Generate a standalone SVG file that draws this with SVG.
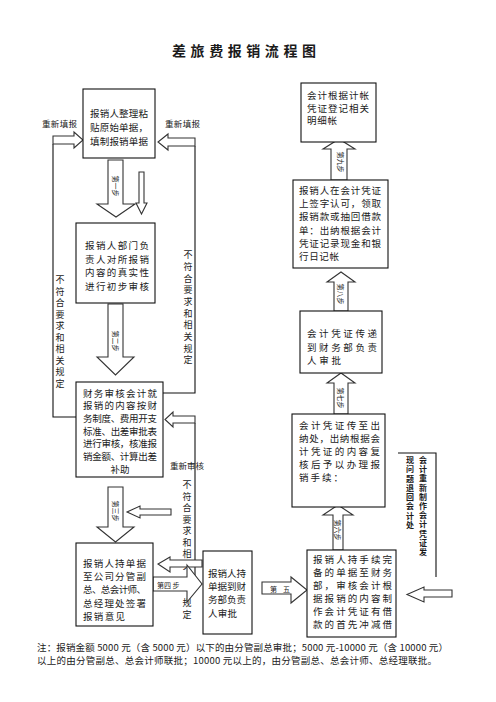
<svg xmlns="http://www.w3.org/2000/svg" width="496" height="702" viewBox="0 0 496 702">
<style>
text{font-family:"Noto Sans CJK SC","Liberation Sans",sans-serif;fill:#1a1a1a;dominant-baseline:central}
.bx{fill:#fff;stroke:#111;stroke-width:1.1}
.t{font-size:9.5px}
.v{font-size:9px;writing-mode:vertical-rl}
.vr{font-size:8px;writing-mode:vertical-rl;font-weight:bold}
.s{font-size:8.5px}
.st{font-size:7px}
.ar{fill:#fff;stroke:#333;stroke-width:1.1;stroke-linejoin:miter}
.ln{fill:none;stroke:#111;stroke-width:1.1}
</style>
<rect width="496" height="702" fill="#fff"/>
<text x="172" y="50" font-size="14" font-weight="bold" textLength="144" lengthAdjust="spacing">差旅费报销流程图</text>

<g id="connectors">
<path class="ln" d="M53 144 L53 417 L76 417"/>
<path class="ln" d="M195 146 L195 393 L163 393"/>
<path class="ln" d="M195 423 L195 577"/>
<path class="ln" d="M398 453 L436 453 L436 577"/>
<text class="v" x="60" y="275.5" textLength="112.5" lengthAdjust="spacing">不符合要求和相关规定</text>
<text class="v" x="188" y="250.5" textLength="114" lengthAdjust="spacing">不符合要求和相关规定</text>
<text class="v" x="187" y="480.5" textLength="89.5" lengthAdjust="spacing">不符合要求和相关</text>
<text class="v" x="187" y="598.5" textLength="20.5" lengthAdjust="spacing">规定</text>
<text class="vr" x="423" y="456" textLength="100" lengthAdjust="spacing">会计重新制作会计凭证发</text>
<text class="vr" x="410" y="456" textLength="73" lengthAdjust="spacing">现问题退回会计处</text>
<path class="ar" d="M53 136 L74 136 L74 132 L83 140 L74 148 L74 144 L53 144 Z"/>
<path class="ar" d="M195 138 L168 138 L168 134 L158 142 L168 150 L168 146 L195 146 Z"/>
<path class="ar" d="M195 416 L173 416 L173 412 L165 419.5 L173 427 L173 423 L195 423 Z"/>
<path class="ar" d="M108 160 L123 160 L123 204 L135 204 L116 217 L97 204 L108 204 Z"/>
<path class="ar" d="M139 172 L144 172 L144 203 L147 203 L141.5 214 L136 203 L139 203 Z"/>
<path class="ar" d="M108 304 L123 304 L123 357 L134 357 L115.5 375 L97 357 L108 357 Z"/>
<path class="ar" d="M108 487 L123 487 L123 527 L134 527 L115.5 542 L97 527 L108 527 Z"/>
<path class="ar" d="M171 509 L140 509 L140 506 L127 512 L140 518 L140 515 L171 515 Z"/>
<path class="ar" d="M202 560 L170 560 L170 557 L158 564 L170 572 L170 567 L202 567 Z"/>
<path class="ar" d="M153 577 L187 577 L187 565 L202 584 L187 602 L187 591 L153 591 Z"/>
<path class="ar" d="M262 582 L291 582 L291 577 L307 590 L291 603 L291 594 L262 594 Z"/>
<path class="ar" d="M452 590 L424 590 L424 587 L407 594.5 L424 602 L424 597 L452 597 Z"/>
<path class="ar" d="M333 550 L343 550 L343 515 L353 515 L338 505 L323 515 L333 515 Z"/>
<path class="ar" d="M334 414 L348 414 L348 383 L355 383 L341 373 L327 383 L334 383 Z"/>
<path class="ar" d="M334 311 L348 311 L348 282 L355 282 L341 272 L327 282 L334 282 Z"/>
<path class="ar" d="M331 180 L347 180 L347 149 L355 149 L339 139 L323 149 L331 149 Z"/>
<text class="st" transform="translate(115.5,186) rotate(90)" text-anchor="middle">第一步</text>
<text class="st" transform="translate(115.5,341) rotate(90)" text-anchor="middle">第二步</text>
<text class="st" transform="translate(115.5,511) rotate(90)" text-anchor="middle">第三步</text>
<text class="st" transform="translate(341,162) rotate(90)" text-anchor="middle">第九步</text>
<text class="st" transform="translate(341,294) rotate(90)" text-anchor="middle">第八步</text>
<text class="st" transform="translate(341,398) rotate(90)" text-anchor="middle">第七步</text>
<text class="st" transform="translate(338,530) rotate(90)" text-anchor="middle">第六步</text>
<text class="st" x="157" y="585">第四 步</text>
<text class="st" x="270" y="589" textLength="20" lengthAdjust="spacing">第 五</text>
<text class="s" x="42" y="123" textLength="35" lengthAdjust="spacing">重新填报</text>
<text class="s" x="165" y="123" textLength="35" lengthAdjust="spacing">重新填报</text>
<text class="s" x="170" y="465" textLength="34" lengthAdjust="spacing">重新审核</text>
</g>

<g id="n1">
<rect class="bx" x="83" y="89" width="72" height="69"/>
<text class="t" x="90" y="113" textLength="58" lengthAdjust="spacing">报销人整理粘</text>
<text class="t" x="90" y="127" textLength="58" lengthAdjust="spacing">贴原始单据，</text>
<text class="t" x="90" y="141" textLength="58" lengthAdjust="spacing">填制报销单据</text>
</g>
<g id="n2">
<rect class="bx" x="76" y="223" width="79" height="80"/>
<text class="t" x="85" y="245" textLength="64" lengthAdjust="spacing">报销人部门负</text>
<text class="t" x="85" y="258.5" textLength="64" lengthAdjust="spacing">责人对所报销</text>
<text class="t" x="85" y="272" textLength="64" lengthAdjust="spacing">内容的真实性</text>
<text class="t" x="85" y="285.5" textLength="64" lengthAdjust="spacing">进行初步审核</text>
</g>
<g id="n3">
<rect class="bx" x="76" y="382" width="87" height="95"/>
<text class="t" x="83" y="392.5" textLength="74" lengthAdjust="spacing">财务审核会计就</text>
<text class="t" x="83" y="405.3" textLength="74" lengthAdjust="spacing">报销的内容按财</text>
<text class="t" x="83" y="418" textLength="74" lengthAdjust="spacing">务制度、费用开支</text>
<text class="t" x="83" y="430.7" textLength="74" lengthAdjust="spacing">标准、出差审批表</text>
<text class="t" x="83" y="443.4" textLength="74" lengthAdjust="spacing">进行审核，核准报</text>
<text class="t" x="83" y="456.2" textLength="74" lengthAdjust="spacing">销金额、计算出差</text>
<text class="t" x="120" y="469" text-anchor="middle">补助</text>
</g>
<g id="n4">
<rect class="bx" x="76" y="543" width="77" height="83"/>
<text class="t" x="83" y="563" textLength="63" lengthAdjust="spacing">报销人持单据</text>
<text class="t" x="83" y="576.2" textLength="63" lengthAdjust="spacing">至公司分管副</text>
<text class="t" x="83" y="589.4" textLength="63" lengthAdjust="spacing">总、总会计师、</text>
<text class="t" x="83" y="602.6" textLength="63" lengthAdjust="spacing">总经理处签署</text>
<text class="t" x="83" y="615.8" textLength="42" lengthAdjust="spacing">报销意见</text>
</g>
<g id="n5">
<rect class="bx" x="203" y="551" width="49" height="83"/>
<text class="t" x="208" y="573" textLength="38" lengthAdjust="spacing">报销人持</text>
<text class="t" x="208" y="586" textLength="38" lengthAdjust="spacing">单据到财</text>
<text class="t" x="208" y="599" textLength="38" lengthAdjust="spacing">务部负责</text>
<text class="t" x="208" y="613" textLength="29" lengthAdjust="spacing">人审批</text>
</g>
<g id="n6">
<rect class="bx" x="307" y="550" width="89" height="87"/>
<text class="t" x="313" y="558.5" textLength="79" lengthAdjust="spacing">报销人持手续完</text>
<text class="t" x="313" y="571.5" textLength="79" lengthAdjust="spacing">备的单据至财务</text>
<text class="t" x="313" y="584.5" textLength="79" lengthAdjust="spacing">部，审核会计根</text>
<text class="t" x="313" y="597.5" textLength="79" lengthAdjust="spacing">据报销的内容制</text>
<text class="t" x="313" y="610.5" textLength="79" lengthAdjust="spacing">作会计凭证有借</text>
<text class="t" x="313" y="623.5" textLength="79" lengthAdjust="spacing">款的首先冲减借</text>
</g>
<g id="n7">
<rect class="bx" x="292" y="414" width="93" height="93"/>
<text class="t" x="299" y="425" textLength="81" lengthAdjust="spacing">会计凭证传至出</text>
<text class="t" x="299" y="438" textLength="81" lengthAdjust="spacing">纳处，出纳根据会</text>
<text class="t" x="299" y="451" textLength="81" lengthAdjust="spacing">计凭证的内容复</text>
<text class="t" x="299" y="464" textLength="81" lengthAdjust="spacing">核后予以办理报</text>
<text class="t" x="299" y="477" textLength="44" lengthAdjust="spacing">销手续：</text>
</g>
<g id="n8">
<rect class="bx" x="300" y="311" width="82" height="62"/>
<text class="t" x="307" y="333" textLength="70" lengthAdjust="spacing">会计凭证传递</text>
<text class="t" x="307" y="347" textLength="70" lengthAdjust="spacing">到财务部负责</text>
<text class="t" x="307" y="360" textLength="34" lengthAdjust="spacing">人审批</text>
</g>
<g id="n9">
<rect class="bx" x="293" y="180" width="95" height="88"/>
<text class="t" x="299" y="190" textLength="82" lengthAdjust="spacing">报销人在会计凭证</text>
<text class="t" x="299" y="203.2" textLength="82" lengthAdjust="spacing">上签字认可，领取</text>
<text class="t" x="299" y="216.4" textLength="82" lengthAdjust="spacing">报销款或抽回借款</text>
<text class="t" x="299" y="229.6" textLength="82" lengthAdjust="spacing">单：出纳根据会计</text>
<text class="t" x="299" y="242.8" textLength="82" lengthAdjust="spacing">凭证记录现金和银</text>
<text class="t" x="299" y="256" textLength="40" lengthAdjust="spacing">行日记帐</text>
</g>
<g id="n10">
<rect class="bx" x="301" y="83" width="75" height="59"/>
<text class="t" x="307" y="95" textLength="62" lengthAdjust="spacing">会计根据计帐</text>
<text class="t" x="307" y="107.5" textLength="62" lengthAdjust="spacing">凭证登记相关</text>
<text class="t" x="307" y="120" textLength="30" lengthAdjust="spacing">明细帐</text>
</g>

<text x="37" y="647" font-size="9.5" textLength="411" lengthAdjust="spacing">注：报销金额 5000 元（含 5000 元）以下的由分管副总审批；5000 元-10000 元（含 10000 元）</text>
<text x="37" y="660" font-size="9.5" textLength="400" lengthAdjust="spacing">以上的由分管副总、总会计师联批；10000 元以上的，由分管副总、总会计师、总经理联批。</text>
</svg>
